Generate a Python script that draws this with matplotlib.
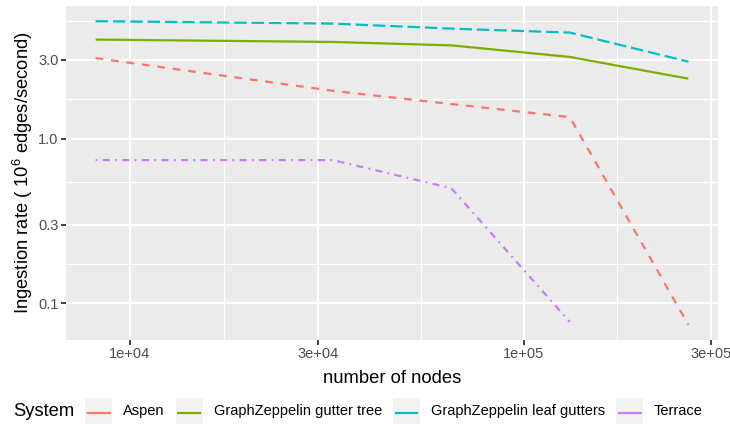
import matplotlib
matplotlib.use("Agg")
import matplotlib.pyplot as plt
from matplotlib.lines import Line2D
from matplotlib.patches import Rectangle
import numpy as np

plt.rcParams['font.family'] = ['Liberation Sans', 'DejaVu Sans']
plt.rcParams['mathtext.fontset'] = 'custom'
plt.rcParams['mathtext.rm'] = 'Liberation Sans'
plt.rcParams['mathtext.it'] = 'Liberation Sans:italic'

# ---- data ----
nodes = [8192, 32768, 65536, 131072, 262144]
systems = ["Aspen", "GraphZeppelin gutter tree", "GraphZeppelin leaf gutters", "Terrace"]
aspen = [3.08, 1.95, 1.62, 1.35, 0.074]
gutter_tree = [3.99, 3.86, 3.68, 3.13, 2.31]
leaf_gutters = [5.16, 4.99, 4.65, 4.40, 2.93]
terrace_nodes = [8192, 32768, 65536, 131072]
terrace = [0.74, 0.74, 0.50, 0.077]

x_ticks = [1e4, 3e4, 1e5, 3e5]
x_tick_labels = ["1e+04", "3e+04", "1e+05", "3e+05"]
y_ticks = [0.1, 0.3, 1.0, 3.0]
y_tick_labels = ["0.1", "0.3", "1.0", "3.0"]

colors = ["#F8766D", "#7CAE00", "#00BFC4", "#C77CFF"]
LW = 1.6
styles = [(0, (3.5, 3.5)), "solid", (0, (5.6, 2.2)), (0, (0.8, 2.4, 3.2, 2.4))]

W, H = 730, 425
fig = plt.figure(figsize=(W / 100, H / 100), dpi=100)
ax = fig.add_axes([66 / W, 1 - 340 / H, (718 - 66) / W, (340 - 6) / H])
ax.set_facecolor("#EBEBEB")
for s in ax.spines.values():
    s.set_visible(False)

series_x = [nodes, nodes, nodes, terrace_nodes]
series_y = [aspen, gutter_tree, leaf_gutters, terrace]
for xs, ys, c, ls in zip(series_x, series_y, colors, styles):
    ax.plot(xs, ys, color=c, lw=LW, linestyle=ls, solid_capstyle='butt', dash_capstyle='butt', zorder=3)

ax.set_xscale("log")
ax.set_yscale("log")

# ggplot-like expansion (5% in log space)
allx = np.log10(nodes)
ally = np.log10(aspen + gutter_tree + leaf_gutters + terrace)
rx = allx.max() - allx.min()
ry = ally.max() - ally.min()
ax.set_xlim(10 ** (allx.min() - 0.05 * rx), 10 ** (allx.max() + 0.05 * rx))
ax.set_ylim(10 ** (ally.min() - 0.05 * ry), 10 ** (ally.max() + 0.05 * ry))

ax.xaxis.set_major_locator(matplotlib.ticker.FixedLocator(x_ticks))
ax.xaxis.set_major_formatter(matplotlib.ticker.FixedFormatter(x_tick_labels))
ax.yaxis.set_major_locator(matplotlib.ticker.FixedLocator(y_ticks))
ax.yaxis.set_major_formatter(matplotlib.ticker.FixedFormatter(y_tick_labels))

def minors(ticks):
    lt = np.log10(ticks)
    step = (lt[1] - lt[0]) / 2
    m = [(a + b) / 2 for a, b in zip(lt[:-1], lt[1:])]
    m = [lt[0] - step] + m + [lt[-1] + step]
    return [10 ** v for v in m]

ax.xaxis.set_minor_locator(matplotlib.ticker.FixedLocator(minors(x_ticks)))
ax.yaxis.set_minor_locator(matplotlib.ticker.FixedLocator(minors(y_ticks)))
ax.xaxis.set_minor_formatter(matplotlib.ticker.NullFormatter())
ax.yaxis.set_minor_formatter(matplotlib.ticker.NullFormatter())

ax.grid(which="major", color="white", lw=1.5, zorder=1)
ax.grid(which="minor", color="white", lw=0.75, zorder=1)
ax.set_axisbelow(True)
ax.tick_params(which="major", length=3.3, width=1.3, color="#333333",
               labelsize=10.5, labelcolor="#4D4D4D", pad=2)
ax.tick_params(which="minor", length=0)

ax.set_xlabel("number of nodes", fontsize=13.2, color="black", labelpad=6)
ax.set_ylabel(r"Ingestion rate ( $10^6$ edges/second)", fontsize=13.2, color="black", labelpad=2)

# ---- legend (ggplot-like, horizontal at bottom) ----
fig.canvas.draw()
renderer = fig.canvas.get_renderer()
yc = 411
x = 13
t = fig.text(x / W, 1 - yc / H, "System", fontsize=13.2, ha="left", va="center")
bb = t.get_window_extent(renderer)
x += bb.width + 11
for name, c in zip(systems, colors):
    fig.add_artist(Rectangle((x / W, 1 - 424 / H), 27 / W, 26 / H, transform=fig.transFigure,
                             facecolor="#F2F2F2", edgecolor="none"))
    fig.add_artist(Line2D([(x + 2.5) / W, (x + 24.5) / W], [1 - (yc + 1.5) / H] * 2,
                          transform=fig.transFigure, color=c, lw=LW))
    x += 27 + 11
    t = fig.text(x / W, 1 - yc / H, name, fontsize=10.5, ha="left", va="center")
    bb = t.get_window_extent(renderer)
    x += bb.width + 11

fig.savefig("out.png", dpi=100)
